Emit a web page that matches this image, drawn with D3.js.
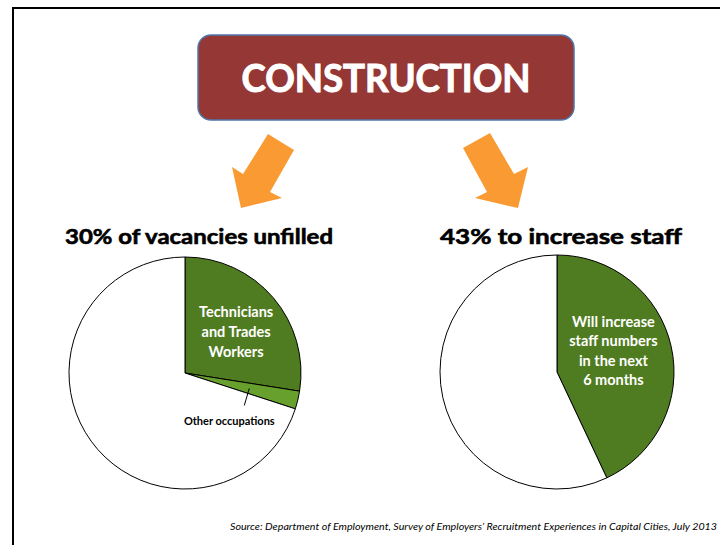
<!DOCTYPE html>
<html>
<head>
<meta charset="utf-8">
<script src="https://cdn.jsdelivr.net/npm/d3@7"></script>
<style>
  body { margin: 0; background: #fff; }
  text { font-family: Lato, "Open Sans", sans-serif; }
</style>
</head>
<body>
<div id="container"></div>
<script>
/* DATA */
var vacancyLabels = ["Technicians and Trades Workers", "Other occupations", "Filled"];
var vacancyValues = [27.5, 2.5, 70];
var staffLabels = ["Will increase staff numbers in the next 6 months", "Other"];
var staffValues = [43, 57];
var titles = ["30% of vacancies unfilled", "43% to increase staff"];
var source = "Source:  Department of Employment, Survey of Employers\u2019 Recruitment Experiences in Capital Cities, July 2013";

var width = 720, height = 545;
var darkGreen = "#4f7c21", lightGreen = "#67a02c", orange = "#f99a33";

var svg = d3.select("#container")
  .append("svg")
  .attr("width", width)
  .attr("height", height);

// frame (top + left only)
svg.append("path")
  .attr("d", "M13,545 V8 H720")
  .attr("fill", "none")
  .attr("stroke", "#000")
  .attr("stroke-width", 2);

// header box
svg.append("rect")
  .attr("x", 198).attr("y", 35)
  .attr("width", 376).attr("height", 85)
  .attr("rx", 13)
  .attr("fill", "#953735")
  .attr("stroke", "#4f77aa")
  .attr("stroke-width", 1.5);

svg.append("text")
  .attr("x", 386).attr("y", 92)
  .attr("text-anchor", "middle")
  .attr("fill", "#fff")
  .attr("stroke", "#fff")
  .attr("stroke-width", 1)
  .style("font-weight", "bold")
  .style("font-size", "38px")
  .attr("textLength", 289)
  .attr("lengthAdjust", "spacingAndGlyphs")
  .text("CONSTRUCTION");

// arrows
var arrows = [
  [[268,134],[294,150],[270,192],[282,198],[241,208],[232,167],[243,174]],
  [[490,133],[514,174],[528,167],[518,208],[475,198],[487,192],[463,148]]
];
svg.selectAll(".arrow")
  .data(arrows)
  .enter()
  .append("polygon")
  .attr("class", "arrow")
  .attr("points", function(d) { return d.map(function(p) { return p.join(","); }).join(" "); })
  .attr("fill", orange);

// pie titles
var titleX = [199, 561], titleW = [268, 242];
svg.selectAll(".ptitle")
  .data(titles)
  .enter()
  .append("text")
  .attr("class", "ptitle")
  .attr("x", function(d, i) { return titleX[i]; })
  .attr("y", 244)
  .attr("text-anchor", "middle")
  .attr("stroke", "#000")
  .attr("stroke-width", 0.6)
  .style("font-weight", "bold")
  .style("font-size", "21px")
  .attr("textLength", function(d, i) { return titleW[i]; })
  .attr("lengthAdjust", "spacingAndGlyphs")
  .text(function(d) { return d; });

var pie = d3.pie().sort(null).value(function(d) { return d; });

// LEFT PIE
var r1 = 116;
var g1 = svg.append("g").attr("transform", "translate(185,373)");
var arc1 = d3.arc().innerRadius(0).outerRadius(r1);
var color1 = d3.scaleOrdinal().domain(vacancyLabels).range([darkGreen, lightGreen, "#fff"]);
var slices1 = pie(vacancyValues);

g1.selectAll("path")
  .data(slices1)
  .enter()
  .append("path")
  .attr("d", arc1)
  .attr("fill", function(d, i) { return color1(vacancyLabels[i]); })
  .attr("stroke", "#000")
  .attr("stroke-width", 1);

var lab1 = d3.arc().innerRadius(r1 * 0.5).outerRadius(r1 * 0.5);
var c1 = lab1.centroid(slices1[0]);
g1.append("text")
  .attr("text-anchor", "middle")
  .attr("fill", "#fff")
  .style("font-weight", "bold")
  .style("font-size", "14.5px")
  .selectAll("tspan")
  .data(["Technicians", "and Trades", "Workers"])
  .enter()
  .append("tspan")
  .attr("x", c1[0] + 7)
  .attr("y", function(d, i) { return c1[1] - 18 + i * 20; })
  .text(function(d) { return d; });

// leader for other occupations
var lead = d3.arc().innerRadius(r1 * 0.57).outerRadius(r1 * 0.57);
var lp = lead.centroid(slices1[1]);
g1.append("line")
  .attr("x1", lp[0]).attr("y1", lp[1])
  .attr("x2", lp[0] - 5).attr("y2", lp[1] + 17)
  .attr("stroke", "#000")
  .attr("stroke-width", 1);
g1.append("text")
  .attr("x", lp[0] - 20)
  .attr("y", lp[1] + 37)
  .attr("text-anchor", "middle")
  .style("font-weight", "bold")
  .style("font-size", "11px")
  .text(vacancyLabels[1]);

// RIGHT PIE
var r2 = 117;
var g2 = svg.append("g").attr("transform", "translate(557,372)");
var arc2 = d3.arc().innerRadius(0).outerRadius(r2);
var color2 = d3.scaleOrdinal().domain(staffLabels).range([darkGreen, "#fff"]);
var slices2 = pie(staffValues);

g2.selectAll("path")
  .data(slices2)
  .enter()
  .append("path")
  .attr("d", arc2)
  .attr("fill", function(d, i) { return color2(staffLabels[i]); })
  .attr("stroke", "#000")
  .attr("stroke-width", 1);

var lab2 = d3.arc().innerRadius(r2 * 0.45).outerRadius(r2 * 0.45);
var c2 = lab2.centroid(slices2[0]);
g2.append("text")
  .attr("text-anchor", "middle")
  .attr("fill", "#fff")
  .style("font-weight", "bold")
  .style("font-size", "14.5px")
  .selectAll("tspan")
  .data(["Will increase", "staff numbers", "in the next", "6 months"])
  .enter()
  .append("tspan")
  .attr("x", c2[0] + 5)
  .attr("y", function(d, i) { return c2[1] - 34 + i * 19.5; })
  .text(function(d) { return d; });

// source note
svg.append("text")
  .attr("x", 717)
  .attr("y", 530)
  .attr("text-anchor", "end")
  .style("font-style", "italic")
  .style("font-size", "10px")
  .attr("textLength", 487)
  .attr("lengthAdjust", "spacingAndGlyphs")
  .text(source);
</script>
</body>
</html>
